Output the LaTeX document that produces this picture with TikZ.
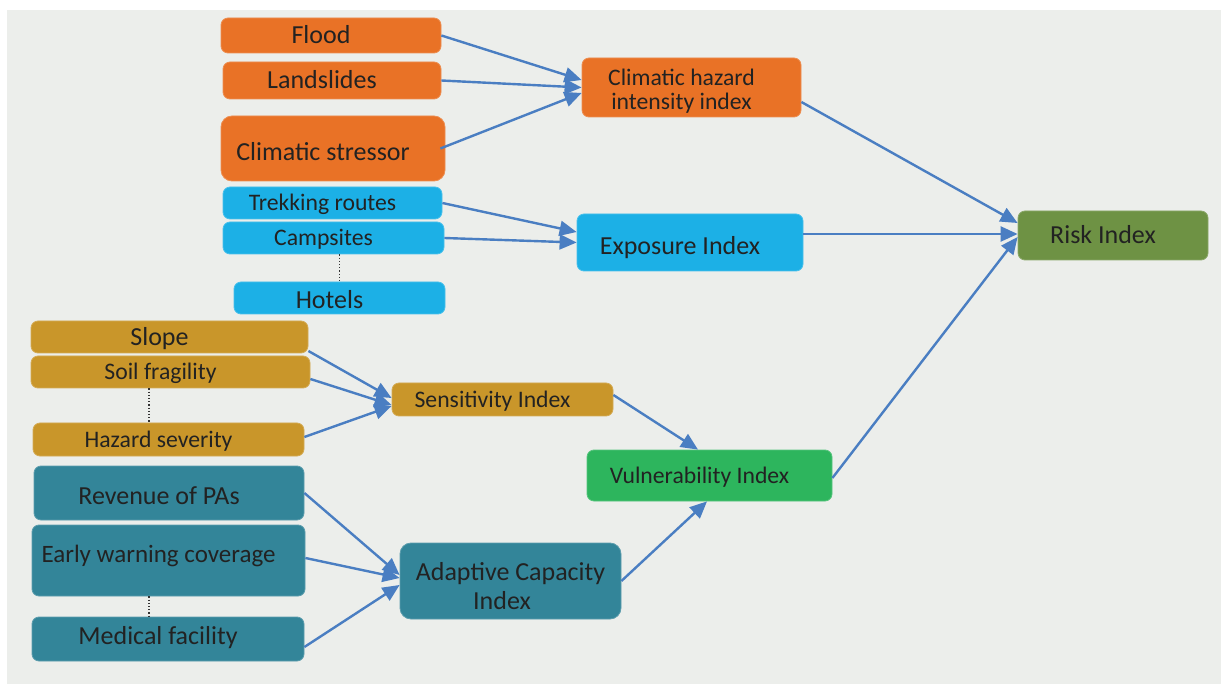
\documentclass[tikz,border=0pt]{standalone}
\usepackage{fontspec}
\setmainfont{Carlito}
\usetikzlibrary{arrows.meta}
\definecolor{bggray}{HTML}{ECEEEB}
\definecolor{hazorange}{HTML}{E97226}
\definecolor{expblue}{HTML}{1CB0E6}
\definecolor{sensgold}{HTML}{C9962A}
\definecolor{adaptteal}{HTML}{338599}
\definecolor{vulngreen}{HTML}{2DB55D}
\definecolor{riskolive}{HTML}{6E9244}
\definecolor{linkblue}{HTML}{4A7EC2}
\definecolor{txt}{HTML}{222222}
\tikzset{
    rpad/.initial = 20pt,
    box/.style =    {rectangle,
                    rounded corners=7pt,
                    fill=#1,
                    draw=#1!80!white,
                    line width=0.8pt,
                    text=txt,
                    inner sep=0pt,
                    text depth=0pt,
                    execute at end node={\rule{\pgfkeysvalueof{/tikz/rpad}}{0pt}}},
    bigtxt/.style = {font=\fontsize{26}{29}\selectfont,
                    text height=17pt},
    smalltxt/.style = {font=\fontsize{23.7}{24}\selectfont,
                    text height=15.4pt},
    link/.style =   {draw=linkblue,
                    line width=2.4pt,
                    -{Triangle[length=17pt,width=15pt]}},
    dots/.style =   {draw=black!80,
                    line width=1.2pt,
                    dotted}}
\begin{document}
\begin{tikzpicture}[x=1pt,y=-1pt]
    \useasboundingbox (0,0) rectangle (1221,684);
    \fill[bggray] (7,10) rectangle (1221,684);
    % hazard
    \node[box=hazorange, bigtxt, minimum width=220pt, minimum height=35pt]   (flood)  at (331,35.5)  {Flood};
    \node[box=hazorange, bigtxt, minimum width=218pt, minimum height=37pt]   (slides) at (332,80.5)  {Landslides};
    \node[box=hazorange, bigtxt, minimum width=224pt, minimum height=65pt, rounded corners=11pt,
          text height=25pt]                                                (stress) at (333,148.5) {Climatic stressor};
    \node[box=hazorange, smalltxt, align=center, text height={}, text depth={},
          minimum width=219pt, minimum height=59pt]                        (chi)    at (691.5,87.5) {\rule{0pt}{23.5pt}Climatic hazard\\intensity index};
    % exposure
    \node[box=expblue, smalltxt, minimum width=219pt, minimum height=32pt]   (trek)   at (332.5,203) {Trekking routes};
    \node[box=expblue, smalltxt, minimum width=221pt, minimum height=32pt]   (camp)   at (333.5,238) {Campsites};
    \node[box=expblue, bigtxt, minimum width=211pt, minimum height=32pt,
          text height=21pt]                                                (hotel)  at (339.5,298) {Hotels};
    \node[box=expblue, bigtxt, minimum width=226pt, minimum height=57pt,
          text height=25pt]                                                (expo)   at (690,242.5) {Exposure Index};
    % sensitivity
    \node[box=sensgold, bigtxt, minimum width=277pt, minimum height=32pt]    (slope)  at (169.5,337) {Slope};
    \node[box=sensgold, smalltxt, minimum width=279pt, minimum height=32pt]  (soil)   at (170.5,372) {Soil fragility};
    \node[box=sensgold, smalltxt, minimum width=271pt, minimum height=33pt]  (hazsev) at (168.5,439.5) {Hazard severity};
    \node[box=sensgold, smalltxt, minimum width=221pt, minimum height=33pt]  (sens)   at (502.5,399.5) {Sensitivity Index};
    % adaptive capacity
    \node[box=adaptteal, bigtxt, minimum width=270pt, minimum height=54pt,
          text height=23pt]                                                (revenue) at (169,493) {Revenue of PAs};
    \node[box=adaptteal, bigtxt, font=\fontsize{25}{28}\selectfont, minimum width=273pt, minimum height=71pt,
          text depth=13pt]                                                 (warning) at (168.5,560.5) {Early warning coverage};
    \node[box=adaptteal, bigtxt, minimum width=272pt, minimum height=44pt,
          text depth=6pt]                                                  (medical) at (168,639) {Medical facility};
    \node[box=adaptteal, bigtxt, align=center, text height={}, text depth={}, rpad=0pt,
          minimum width=221pt, minimum height=76pt, rounded corners=11pt]  (aci)    at (510.5,581) {\rule{0pt}{28pt}Adaptive Capacity\\Index\rule{17pt}{0pt}};
    % outputs
    \node[box=vulngreen, smalltxt, minimum width=245pt, minimum height=51pt] (vuln)   at (709.5,475.5) {Vulnerability Index};
    \node[box=riskolive, bigtxt, minimum width=190pt, minimum height=49pt]   (risk)   at (1113,235.5) {Risk Index};

    \draw[dots] (hotel.north |- camp.south) -- (hotel.north);
    \draw[dots] ([xshift=-19.5pt]hazsev.north |- soil.south) -- ([xshift=-19.5pt]hazsev.north);
    \draw[dots] ([xshift=-19pt]medical.north |- warning.south) -- ([xshift=-19pt]medical.north);

    % hazard links
    \draw[link] (flood.east) -- ([yshift=7.5pt]chi.west);
    \draw[link] (slides.east) -- (chi.west);
    \draw[link] ([xshift=-5pt]stress.east) -- ([yshift=-5.5pt]chi.west);
    \draw[link] ([yshift=-14.5pt]chi.east) -- ([yshift=12.5pt]risk.west);
    % exposure links
    \draw[link] (trek.east) -- ([yshift=10.5pt]expo.west);
    \draw[link] (camp.east) -- (expo.west);
    \draw[link] ([yshift=8.5pt]expo.east) -- ([yshift=1.5pt]risk.west);
    % sensitivity links
    \draw[link] ([yshift=-14pt]slope.east) -- ([yshift=1.5pt]sens.west);
    \draw[link] ([yshift=-7pt]soil.east) -- ([yshift=-5.5pt]sens.west);
    \draw[link] ([yshift=2.5pt]hazsev.east) -- ([yshift=-6.5pt]sens.west);
    \draw[link] ([yshift=4.5pt]sens.east) -- ([xshift=-11.5pt]vuln.north);
    % adaptive capacity links
    \draw[link] (revenue.east) -- ([yshift=6pt]aci.west);
    \draw[link] ([yshift=2.5pt]warning.east) -- ([yshift=3pt]aci.west);
    \draw[link] ([yshift=-8pt]medical.east) -- ([yshift=-4pt]aci.west);
    \draw[link] (aci.east) -- ([xshift=-2.5pt]vuln.south);
    \draw[link] ([yshift=-2.5pt]vuln.east) -- ([yshift=-1.5pt]risk.west);
\end{tikzpicture}
\end{document}
